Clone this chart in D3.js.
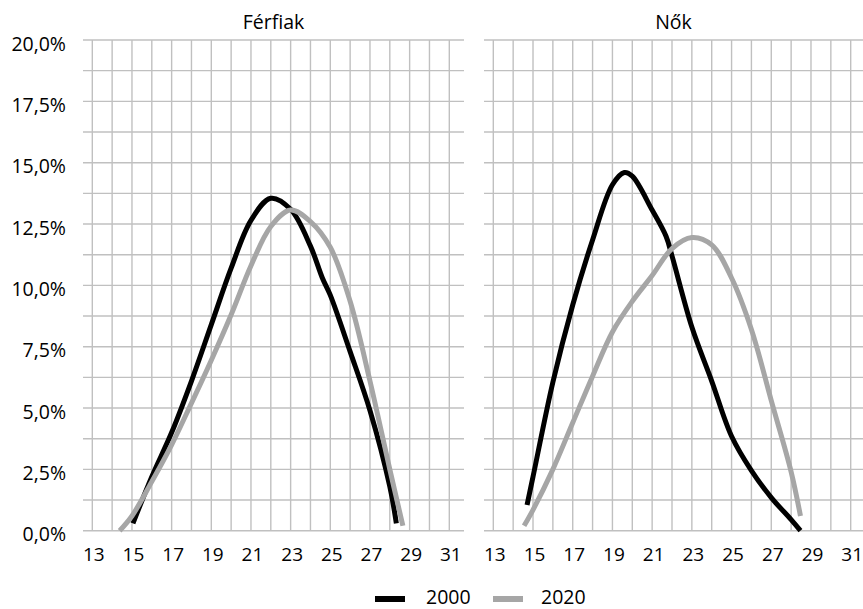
<!DOCTYPE html>
<html>
<head>
<meta charset="utf-8">
<script src="https://cdn.jsdelivr.net/npm/d3@7"></script>
<style>
  html, body { margin: 0; padding: 0; background: #fff; }
  svg text { font-family: "Open Sans", sans-serif; }
</style>
</head>
<body>
<svg id="chart" width="863" height="609"></svg>
<script>
// ---- data ----
const panelTitles = ["Férfiak", "Nők"];
const seriesNames = ["2000", "2020"];
const xTickLabels = [13, 15, 17, 19, 21, 23, 25, 27, 29, 31];
const yTickLabels = ["0,0%", "2,5%", "5,0%", "7,5%", "10,0%", "12,5%", "15,0%", "17,5%", "20,0%"];
const yTickValues = [0, 2.5, 5, 7.5, 10, 12.5, 15, 17.5, 20];

const men2000Ages = [15.05, 16, 17, 18, 19, 20, 21, 22, 23, 24, 24.6, 25, 26, 27, 28, 28.33];
const men2000     = [0.3, 2.2, 4.0, 6.1, 8.4, 10.7, 12.65, 13.55, 13.1, 11.6, 10.3, 9.6, 7.3, 4.9, 1.8, 0.3];
const men2020Ages = [14.38, 15, 16, 17, 18, 19, 20, 21, 22, 23, 24, 25, 26, 27, 28, 28.66];
const men2020     = [0.0, 0.6, 2.0, 3.5, 5.2, 6.95, 8.8, 10.8, 12.4, 13.07, 12.6, 11.55, 9.35, 6.1, 2.5, 0.2];
const women2000Ages = [14.7, 15, 16, 17, 18, 19, 19.6, 20, 21, 21.7, 22, 23, 24, 25, 26, 27, 28, 28.47];
const women2000     = [1.05, 2.2, 6.05, 9.2, 11.85, 14.1, 14.6, 14.45, 13.07, 12.0, 11.2, 8.3, 6.1, 3.85, 2.45, 1.35, 0.45, 0.0];
const women2020Ages = [14.55, 15, 16, 17, 18, 19, 20, 21, 22, 23, 24, 25, 26, 27, 28, 28.47];
const women2020     = [0.2, 0.85, 2.5, 4.4, 6.3, 8.1, 9.35, 10.4, 11.5, 11.95, 11.65, 10.3, 8.2, 5.3, 2.4, 0.6];

const panelData = [
  [{ages: men2000Ages, vals: men2000}, {ages: men2020Ages, vals: men2020}],
  [{ages: women2000Ages, vals: women2000}, {ages: women2020Ages, vals: women2020}]
];

// ---- layout ----
const colors = ["#000000", "#a6a6a6"];
const gridColor = "#c0c0c0";
const fontSize = 19.5;
const tickFontSize = 19;
const panels = [
  {left: 83, right: 464, gx0: 92.3, gx1: 449.3},
  {left: 484, right: 863, gx0: 493.3, gx1: 850.7}
];
const yTop = 40, yBottom = 530.7;

const svg = d3.select("#chart");
const y = d3.scaleLinear().domain([0, 20]).range([yBottom, yTop]);
const gridY = d3.range(0, 20.001, 1.25);
const gridX = d3.range(13, 32, 1);

panels.forEach((p, i) => {
  const x = d3.scaleLinear().domain([13, 31]).range([p.gx0, p.gx1]);
  const g = svg.append("g");

  g.selectAll("line.h").data(gridY).join("line")
    .attr("x1", p.left).attr("x2", p.right)
    .attr("y1", d => y(d)).attr("y2", d => y(d))
    .attr("stroke", gridColor).attr("stroke-width", 1.4);
  g.selectAll("line.v").data(gridX).join("line")
    .attr("x1", d => x(d)).attr("x2", d => x(d))
    .attr("y1", yTop).attr("y2", yBottom)
    .attr("stroke", gridColor).attr("stroke-width", 1.4);

  const xAxis = d3.axisBottom(x).tickValues(xTickLabels).tickSize(0).tickPadding(0).tickFormat(d3.format("d"));
  const ax = g.append("g").attr("transform", `translate(1,${yBottom})`).call(xAxis);
  ax.select(".domain").remove();
  ax.selectAll("text").attr("y", 0).attr("dy", null).attr("transform", "translate(0,30.5)")
    .attr("font-size", tickFontSize).attr("fill", "#000").style("font-family", "'Open Sans', sans-serif");

  g.append("text").attr("x", (p.left + p.right) / 2).attr("y", 28.5)
    .attr("text-anchor", "middle").attr("font-size", fontSize).attr("fill", "#000")
    .text(panelTitles[i]);

  const line = d3.line().x(d => x(d[0])).y(d => y(d[1])).curve(d3.curveCatmullRom.alpha(0.5));
  panelData[i].forEach((s, si) => {
    const pts = s.ages.map((a, k) => [a, s.vals[k]]);
    g.append("path").datum(pts).attr("d", line)
      .attr("fill", "none").attr("stroke", colors[si]).attr("stroke-width", 5);
  });
});

const yAxis = d3.axisLeft(y).tickValues(yTickValues).tickSize(0).tickPadding(0)
  .tickFormat((d, k) => yTickLabels[k]);
const ay = svg.append("g").attr("transform", "translate(66,0)").call(yAxis);
ay.select(".domain").remove();
ay.selectAll("text").attr("x", 0).attr("dy", "0.32em").attr("transform", "translate(0,4)")
  .attr("font-size", fontSize).attr("fill", "#000").style("font-family", "'Open Sans', sans-serif");

const legendItems = [{lx: 375, tx: 426}, {lx: 493, tx: 541}];
const lg = svg.append("g");
seriesNames.forEach((name, i) => {
  lg.append("line").attr("x1", legendItems[i].lx).attr("x2", legendItems[i].lx + 30)
    .attr("y1", 599).attr("y2", 599).attr("stroke", colors[i]).attr("stroke-width", 6);
  lg.append("text").attr("x", legendItems[i].tx).attr("y", 604)
    .attr("font-size", fontSize).attr("fill", "#000").text(name);
});
</script>
</body>
</html>
